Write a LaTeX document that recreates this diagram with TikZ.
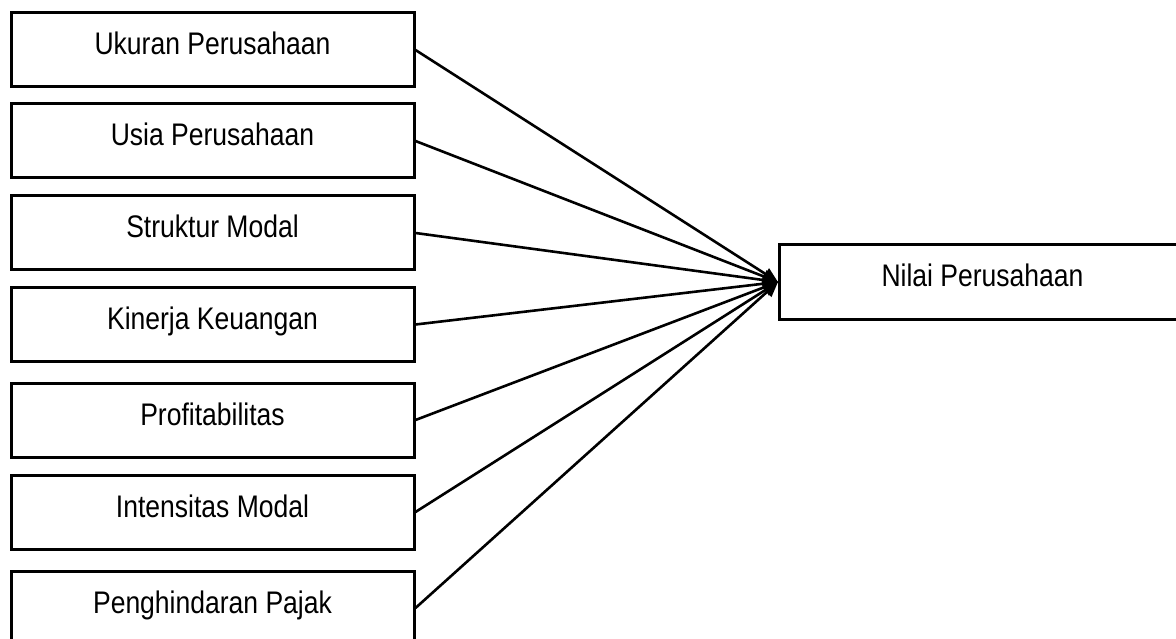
\documentclass[tikz,border=0pt]{standalone}
\usepackage{fontspec}
\setmainfont{Liberation Sans}[FakeStretch=0.85]
\usetikzlibrary{arrows.meta}
\begin{document}
\begin{tikzpicture}[x=1pt,y=-1pt,
  varbox/.style={draw=black, line width=3pt, rectangle, minimum width=403pt, minimum height=74pt,
    inner sep=0pt, text height=25pt, text depth=15pt,
    font=\fontsize{31.2}{36}\selectfont},
  conn/.style={line width=2.6pt, -{Triangle[length=15pt,width=13pt]}}]
\clip (0,0) rectangle (1176,639);
\fill[white] (0,0) rectangle (1176,639);
\node[varbox] (b1) at (212.5,50) {Ukuran Perusahaan};
\node[varbox] (b2) at (212.5,141) {Usia Perusahaan};
\node[varbox] (b3) at (212.5,233) {Struktur Modal};
\node[varbox] (b4) at (212.5,324.5) {Kinerja Keuangan};
\node[varbox] (b5) at (212.5,420) {Profitabilitas};
\node[varbox] (b6) at (212.5,512) {Intensitas Modal};
\node[varbox] (b7) at (212.5,608) {Penghindaran Pajak};
\node[varbox, minimum width=406pt] (nv) at (982.5,282) {Nilai Perusahaan};
\foreach \i in {1,...,7} {
  \draw[conn] (b\i.east) -- (nv.west);
}
\end{tikzpicture}
\end{document}
